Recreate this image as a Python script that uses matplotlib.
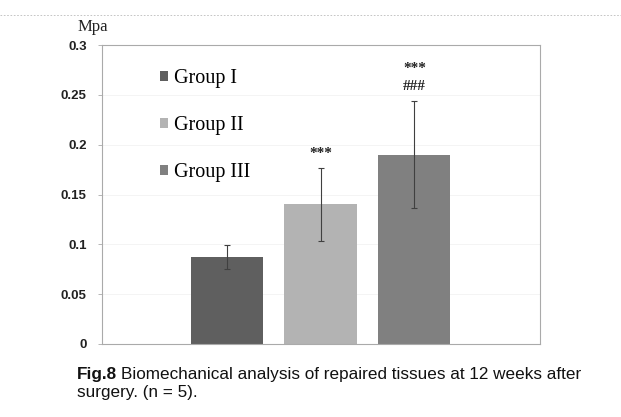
import matplotlib
matplotlib.use("Agg")
import matplotlib.pyplot as plt
from matplotlib.lines import Line2D
from matplotlib.patches import Patch

groups = ["Group I", "Group II", "Group III"]
values = [0.087, 0.140, 0.190]
errors = [0.012, 0.037, 0.054]
colors = ["#5f5f5f", "#b3b3b3", "#808080"]
sig_vs_group1 = ["", "***", "***"]
sig_vs_group2 = ["", "", "###"]
yticks = [0, 0.05, 0.1, 0.15, 0.2, 0.25, 0.3]
yticklabels = ["0", "0.05", "0.1", "0.15", "0.2", "0.25", "0.3"]

W, H = 621, 417
fig = plt.figure(figsize=(W / 100, H / 100), dpi=100)
ax = fig.add_axes([102 / W, 1 - 344 / H, (540 - 102) / W, (344 - 45) / H])

pos = [1, 2, 3]
ax.bar(pos, values, width=0.77, color=colors, zorder=2)
ax.errorbar(pos, values, yerr=errors, fmt="none", ecolor="#404040",
            elinewidth=0.8, capsize=2.5, capthick=0.8, zorder=3)
px2pt = 0.72
for p, v, e, s1, s2 in zip(pos, values, errors, sig_vs_group1, sig_vs_group2):
    lines = [t for t in (s2, s1) if t]
    for i, t in enumerate(lines):
        ax.annotate(t, (p, v + e), xytext=(0, (14 + 18 * i) * px2pt),
                    textcoords="offset points", ha="center", va="center",
                    family="Liberation Serif", fontsize=11, fontweight="bold",
                    color="#222222")

ax.set_xlim(-0.33, 4.34)
ax.set_ylim(0, 0.3)
ax.set_xticks([])
ax.set_yticks(yticks)
ax.set_yticklabels(yticklabels, family="Liberation Sans", fontweight="bold",
                   fontsize=9.5, color="#222222")
ax.tick_params(axis="y", length=3, width=0.6, color="#aaaaaa", pad=8)
for s in ax.spines.values():
    s.set_color("#aaaaaa")
    s.set_linewidth(0.8)
ax.grid(axis="y", color="#f2f2f2", linewidth=0.6, zorder=0)
ax.set_axisbelow(True)

fig.text(93 / W, 1 - 27 / H, "Mpa", ha="center", va="center",
         family="Liberation Serif", fontsize=12, color="#222222")

handles = [Patch(facecolor=c, edgecolor="none") for c in colors]
ax.legend(handles, groups, loc="upper left",
          bbox_to_anchor=((152 - 102) / (540 - 102), 1 - (61 - 45) / (344 - 45)),
          frameon=False, prop={"family": "Liberation Serif", "size": 14.5},
          handlelength=0.4, handleheight=0.4, handletextpad=0.3,
          labelspacing=1.4, borderaxespad=0)

fig.add_artist(Line2D([0, 1], [1 - 15 / H, 1 - 15 / H], color="#bbbbbb",
                      linewidth=0.6, linestyle=(0, (2, 2))))

cap_fs = 12.3
t1 = fig.text(77 / W, 1 - 375 / H, "Fig.8", ha="left", va="center",
              family="Liberation Sans", fontsize=cap_fs, fontweight="bold",
              color="#111111")
fig.canvas.draw()
bb = t1.get_window_extent()
fig.text((bb.x1 + 4) / W, 1 - 375 / H,
         "Biomechanical analysis of repaired tissues at 12 weeks after",
         ha="left", va="center", family="Liberation Sans", fontsize=cap_fs,
         color="#111111")
fig.text(77 / W, 1 - 393 / H, "surgery. (n = 5).", ha="left", va="center",
         family="Liberation Sans", fontsize=cap_fs, color="#111111")

fig.savefig("out.png", dpi=100)
